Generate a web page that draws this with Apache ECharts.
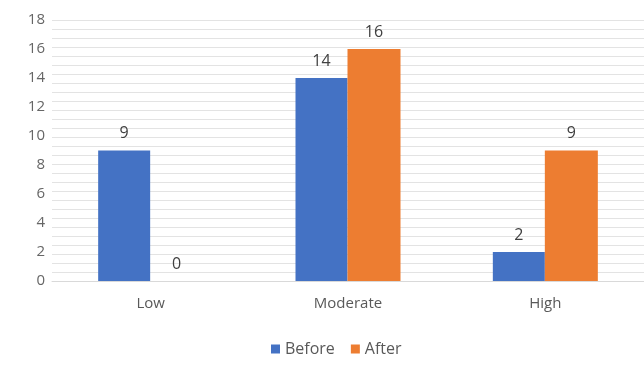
<!DOCTYPE html>
<html>
<head>
<meta charset="utf-8">
<script src="https://cdn.jsdelivr.net/npm/echarts@6/dist/echarts.min.js"></script>
<style>
  html, body { margin: 0; padding: 0; background: #ffffff; }
  #chart { width: 644px; height: 369px; }
</style>
</head>
<body>
<div id="chart"></div>
<script>
// Risk levels before and after the intervention
const categories = ['Low', 'Moderate', 'High'];
const beforeValues = [9, 14, 2];
const afterValues = [0, 16, 9];
const yTicks = [0, 2, 4, 6, 8, 10, 12, 14, 16, 18];
const seriesNames = ['Before', 'After'];

const chart = echarts.init(document.getElementById('chart'));

const labelStyle = {
  show: true,
  position: 'top',
  distance: 9,
  color: '#404040',
  fontSize: 16,
  fontFamily: 'Open Sans'
};

chart.setOption({
  animation: false,
  backgroundColor: '#ffffff',
  textStyle: { fontFamily: 'Open Sans' },
  grid: { left: 52, right: 0, top: 20, bottom: 88, containLabel: false },
  legend: {
    data: seriesNames,
    bottom: 7,
    left: 266,
    itemWidth: 9,
    itemHeight: 9,
    itemGap: 16,
    icon: 'rect',
    textStyle: { color: '#595959', fontSize: 16, fontFamily: 'Open Sans' }
  },
  xAxis: {
    type: 'category',
    data: categories,
    axisLine: { lineStyle: { color: '#d9d9d9' } },
    axisTick: { show: false },
    axisLabel: { color: '#595959', fontSize: 15, margin: 15 }
  },
  yAxis: [
    {
      type: 'value',
      min: yTicks[0],
      max: yTicks[yTicks.length - 1],
      interval: yTicks[1] - yTicks[0],
      axisLine: { show: false },
      axisTick: { show: false },
      splitLine: { show: false },
      axisLabel: { color: '#666666', fontSize: 15, margin: 7 }
    },
    {
      // light ruling across the plot area
      type: 'value',
      min: 0,
      max: 29,
      interval: 1,
      position: 'right',
      axisLine: { show: false },
      axisTick: { show: false },
      axisLabel: { show: false },
      splitLine: { show: true, lineStyle: { color: '#e3e3e3', width: 1 } }
    }
  ],
  series: [
    {
      name: seriesNames[0],
      type: 'bar',
      data: beforeValues,
      barWidth: 52,
      barGap: '0%',
      itemStyle: { color: '#4472C4' },
      label: labelStyle
    },
    {
      name: seriesNames[1],
      type: 'bar',
      data: afterValues,
      barWidth: 53,
      barGap: '0%',
      itemStyle: { color: '#ED7D31' },
      label: labelStyle
    }
  ]
});
</script>
</body>
</html>
